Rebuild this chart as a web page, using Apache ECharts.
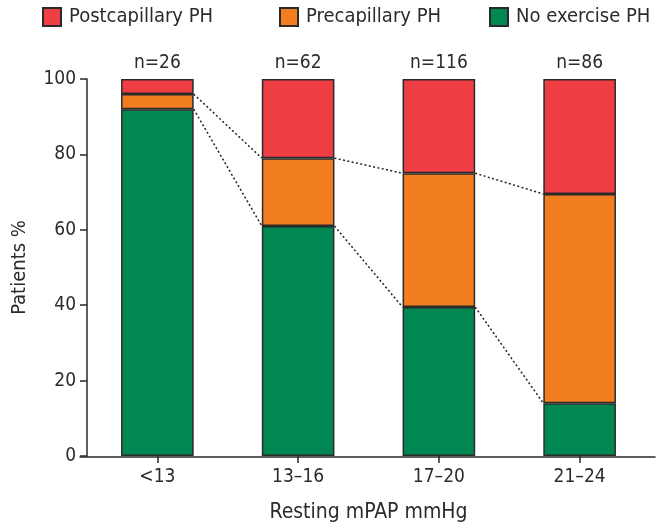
<!DOCTYPE html>
<html>
<head>
<meta charset="utf-8">
<script src="https://cdn.jsdelivr.net/npm/echarts@6/dist/echarts.min.js"></script>
<style>
html,body{margin:0;padding:0;background:#fff;}
#c{width:660px;height:528px;}
</style>
</head>
<body>
<div id="c"></div>
<script>
const categories = ['<13', '13\u201316', '17\u201320', '21\u201324'];
const noExercise = [92, 61, 39.5, 14];
const precapillary = [4, 18, 35.5, 55.5];
const postcapillary = [4, 21, 25, 30.5];
const nCounts = [26, 62, 116, 86];
const yTicks = [0, 20, 40, 60, 80, 100];
const legendNames = ['Postcapillary PH', 'Precapillary PH', 'No exercise PH'];

const FONT = "'Liberation Sans Narrow', 'DejaVu Sans Condensed', sans-serif";
const TXT = '#2b2b2b';
const BAR_FRAC = 0.516;

const greenTop = noExercise.slice();
const orangeTop = noExercise.map((v, i) => v + precapillary[i]);
const connectors = [];
for (let i = 0; i < categories.length - 1; i++) {
  connectors.push([i, greenTop[i], greenTop[i + 1]]);
  connectors.push([i, orangeTop[i], orangeTop[i + 1]]);
}

const chart = echarts.init(document.getElementById('c'), null, {renderer: 'canvas'});
const barStyle = (color) => ({color: color, borderColor: '#2a2a2a', borderWidth: 1.5});
const legendLefts = [42, 279, 489];
const legends = legendNames.map((n, i) => ({
  top: 7, left: legendLefts[i], padding: 0,
  itemWidth: 18, itemHeight: 18, itemGap: 10,
  icon: 'rect',
  textStyle: {fontFamily: FONT, fontSize: 20, color: TXT, padding: [0, 0, 0, 3]},
  data: [n]
}));

chart.setOption({
  animation: false,
  textStyle: {fontFamily: FONT},
  legend: legends,
  grid: [
    {left: 87, right: 10, top: 79, bottom: 71},
    {left: 80, right: 5, top: 79, bottom: 71}
  ],
  xAxis: [{
    type: 'category', gridIndex: 0, data: categories,
    axisLine: {show: false},
    axisTick: {show: true, alignWithLabel: true, length: 7, lineStyle: {color: '#2a2a2a', width: 1.5}},
    axisLabel: {fontFamily: FONT, fontSize: 19, color: TXT, margin: 12},
    name: 'Resting mPAP mmHg', nameLocation: 'middle', nameGap: 46,
    nameTextStyle: {fontFamily: FONT, fontSize: 21, color: TXT}
  }, {
    type: 'category', gridIndex: 1, data: categories,
    axisLine: {show: true, lineStyle: {color: '#2a2a2a', width: 1.5}},
    axisTick: {show: false}, axisLabel: {show: false}
  }],
  yAxis: [{
    type: 'value', gridIndex: 0, min: 0, max: 100, interval: 20,
    axisLine: {show: true, lineStyle: {color: '#2a2a2a', width: 1.5}},
    axisTick: {show: true, length: 7, lineStyle: {color: '#2a2a2a', width: 1.5}},
    axisLabel: {fontFamily: FONT, fontSize: 19, color: TXT, margin: 11,
      formatter: (v) => yTicks.indexOf(v) >= 0 ? String(v) : ''},
    splitLine: {show: false},
    name: 'Patients %', nameLocation: 'middle', nameGap: 57,
    nameTextStyle: {fontFamily: FONT, fontSize: 20, color: TXT}
  }, {
    type: 'value', gridIndex: 1, min: 0, max: 100, show: false
  }],
  series: [
    {
      name: 'Connectors', type: 'custom', xAxisIndex: 0, yAxisIndex: 0, z: 1,
      data: connectors, silent: true,
      renderItem: function (params, api) {
        const i = api.value(0);
        const p1 = api.coord([i, api.value(1)]);
        const p2 = api.coord([i + 1, api.value(2)]);
        const half = api.size([1, 0])[0] * BAR_FRAC / 2;
        return {
          type: 'line',
          shape: {x1: p1[0] + half, y1: p1[1], x2: p2[0] - half, y2: p2[1]},
          style: {stroke: '#222', lineWidth: 1.5, lineDash: [2, 2.4], fill: null}
        };
      }
    },
    {name: 'No exercise PH', type: 'bar', stack: 's', barWidth: (BAR_FRAC * 100) + '%', z: 3,
     data: noExercise, itemStyle: barStyle('#008752')},
    {name: 'Precapillary PH', type: 'bar', stack: 's', z: 3,
     data: precapillary, itemStyle: barStyle('#F37E20')},
    {name: 'Postcapillary PH', type: 'bar', stack: 's', z: 3,
     data: postcapillary, itemStyle: barStyle('#EE3E44'),
     label: {show: true, position: 'top', distance: 6, fontFamily: FONT, fontSize: 19, color: TXT,
       formatter: (p) => 'n=' + nCounts[p.dataIndex]}}
  ]
});
</script>
</body>
</html>
